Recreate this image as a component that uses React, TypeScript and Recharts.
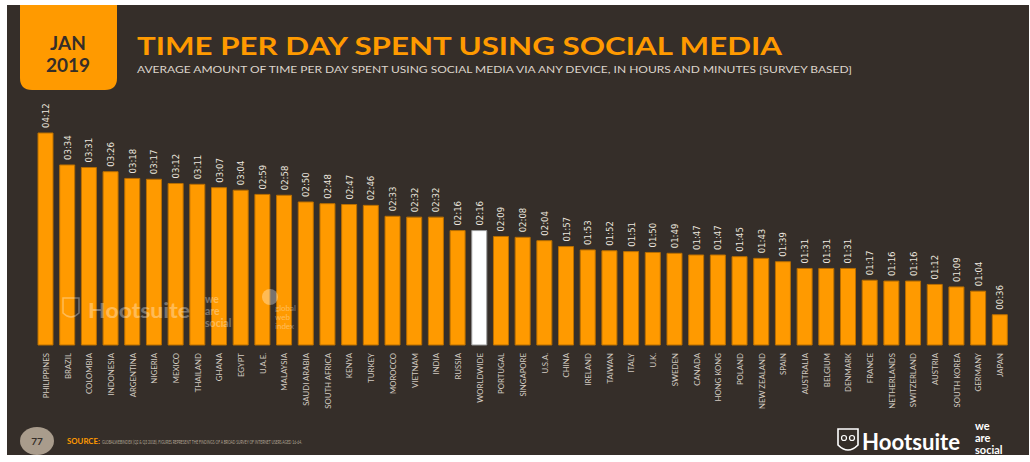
import { Bar, BarChart, Cell, LabelList, XAxis, YAxis } from 'recharts';

const COUNTRIES = [
  'PHILIPPINES', 'BRAZIL', 'COLOMBIA', 'INDONESIA', 'ARGENTINA', 'NIGERIA', 'MEXICO',
  'THAILAND', 'GHANA', 'EGYPT', 'U.A.E.', 'MALAYSIA', 'SAUDI ARABIA', 'SOUTH AFRICA',
  'KENYA', 'TURKEY', 'MOROCCO', 'VIETNAM', 'INDIA', 'RUSSIA', 'WORLDWIDE', 'PORTUGAL',
  'SINGAPORE', 'U.S.A.', 'CHINA', 'IRELAND', 'TAIWAN', 'ITALY', 'U.K.', 'SWEDEN',
  'CANADA', 'HONG KONG', 'POLAND', 'NEW ZEALAND', 'SPAIN', 'AUSTRALIA', 'BELGIUM',
  'DENMARK', 'FRANCE', 'NETHERLANDS', 'SWITZERLAND', 'AUSTRIA', 'SOUTH KOREA',
  'GERMANY', 'JAPAN',
];

// minutes per day (label shows hh:mm)
const MINUTES = [
  252, 214, 211, 206, 198, 197, 192, 191, 187, 184, 179, 178, 170, 168, 167, 166,
  153, 152, 152, 136, 136, 129, 128, 124, 117, 113, 112, 111, 110, 109, 107, 107,
  105, 103, 99, 91, 91, 91, 77, 76, 76, 72, 69, 64, 36,
];

const HIGHLIGHT = 'WORLDWIDE';

const data = COUNTRIES.map((country, i) => ({ country, minutes: MINUTES[i] }));

const ORANGE = '#ff9a00';
const BG = '#352e29';
const LABEL = '#d3cbc2';

const hhmm = (m: number) =>
  `${String(Math.floor(m / 60)).padStart(2, '0')}:${String(m % 60).padStart(2, '0')}`;

function CountryTick({ x, y, payload }: any) {
  return (
    <text
      x={x}
      y={y}
      transform={`rotate(-90, ${x}, ${y})`}
      textAnchor="end"
      dominantBaseline="central"
      fill={LABEL}
      fontSize={7.8}
      fontFamily="Lato, sans-serif"
    >
      {payload.value}
    </text>
  );
}

function ValueLabel({ x, y, width, value }: any) {
  const cx = x + width / 2;
  const ty = y - 5;
  return (
    <text
      x={cx}
      y={ty}
      transform={`rotate(-90, ${cx}, ${ty})`}
      textAnchor="start"
      dominantBaseline="central"
      fill="#ece6df"
      fontSize={9.5}
      fontFamily="'DejaVu Sans Condensed', 'Liberation Sans Narrow', sans-serif"
    >
      {hhmm(value)}
    </text>
  );
}

function Overlay() {
  return (
    <svg
      width={1030}
      height={462}
      style={{ position: 'absolute', left: 0, top: 0, pointerEvents: 'none' }}
    >
      {/* date tab */}
      <path d="M20 5 H117 V78 Q117 90 105 90 H32 Q20 90 20 78 Z" fill={ORANGE} />
      <text x={68} y={50} textAnchor="middle" fill={BG} fontSize={19} fontWeight={700}
        fontFamily="Lato, sans-serif">JAN</text>
      <text x={68} y={72} textAnchor="middle" fill={BG} fontSize={19} fontWeight={700}
        fontFamily="Lato, sans-serif">2019</text>

      <text x={137} y={55} fill={ORANGE} fontSize={25} fontWeight={700}
        fontFamily="Lato, sans-serif" textLength={645} lengthAdjust="spacingAndGlyphs">
        TIME PER DAY SPENT USING SOCIAL MEDIA
      </text>
      <text x={137} y={73} fill="#ddd5cc" fontSize={9.5}
        fontFamily="Lato, sans-serif" textLength={715} lengthAdjust="spacingAndGlyphs">
        AVERAGE AMOUNT OF TIME PER DAY SPENT USING SOCIAL MEDIA VIA ANY DEVICE, IN HOURS AND MINUTES [SURVEY BASED]
      </text>

      {/* watermark over the bars */}
      <g fill="#ffffff" opacity={0.33} fontFamily="Lato, sans-serif" fontWeight={700}>
        <path d="M63 298 H79 V313 Q71 321 63 313 Z" fill="none" stroke="#ffffff" strokeWidth={1.5} />
        <text x={88} y={318} fontSize={20} textLength={102} lengthAdjust="spacingAndGlyphs">Hootsuite</text>
        <text x={205} y={303} fontSize={10.5}>we</text>
        <text x={205} y={315} fontSize={10.5}>are</text>
        <text x={205} y={327} fontSize={10.5}>social</text>
        <circle cx={270} cy={297} r={8} />
        <text x={275} y={311} fontSize={8} fontWeight={400}>global</text>
        <text x={275} y={320} fontSize={8} fontWeight={400}>web</text>
        <text x={275} y={329} fontSize={8} fontWeight={400}>index</text>
      </g>

      {/* footer */}
      <ellipse cx={37} cy={441} rx={17} ry={14} fill="#a99c8c" />
      <text x={37} y={445} textAnchor="middle" fill={BG} fontSize={10} fontWeight={700}
        fontFamily="Lato, sans-serif">77</text>
      <text x={67} y={444} fontSize={7} fontWeight={700} fontFamily="Lato, sans-serif" fill={ORANGE}
        textLength={33} lengthAdjust="spacingAndGlyphs">SOURCE:</text>
      <text x={102} y={444} fontSize={6.5} fontFamily="Lato, sans-serif" fill="#b3a797"
        textLength={200} lengthAdjust="spacingAndGlyphs">
        GLOBALWEBINDEX (Q2 &amp; Q3 2018). FIGURES REPRESENT THE FINDINGS OF A BROAD SURVEY OF INTERNET USERS AGED 16-64.
      </text>

      <path d="M838 429 H858 V445 Q848 455 838 445 Z" fill="none" stroke="#ffffff" strokeWidth={1.6} />
      <circle cx={844} cy={438} r={2.5} fill="none" stroke="#ffffff" strokeWidth={1.2} />
      <circle cx={852} cy={438} r={2.5} fill="none" stroke="#ffffff" strokeWidth={1.2} />
      <text x={862} y={450} fill="#ffffff" fontSize={22} fontWeight={700}
        fontFamily="Lato, sans-serif" textLength={98} lengthAdjust="spacingAndGlyphs">Hootsuite</text>
      <g fill="#ffffff" fontSize={11} fontWeight={700} fontFamily="Lato, sans-serif">
        <text x={975} y={430}>we</text>
        <text x={975} y={442}>are</text>
        <text x={975} y={454}>social</text>
      </g>
    </svg>
  );
}

export default function App() {
  return (
    <div style={{ position: 'absolute', left: 0, top: 0, width: 1030, height: 462, background: '#ffffff' }}>
      <div style={{ position: 'absolute', left: 7, top: 5, width: 1022, height: 450, background: BG }} />
      <div style={{ position: 'absolute', left: 0, top: 0 }}>
        <BarChart
          width={1030}
          height={462}
          data={data}
          margin={{ top: 133, right: 19, left: 35, bottom: 57 }}
        >
          <XAxis
            dataKey="country"
            interval={0}
            axisLine={false}
            tickLine={false}
            height={60}
            tick={<CountryTick />}
          />
          <YAxis hide domain={[0, 252]} />
          <Bar dataKey="minutes" barSize={15} isAnimationActive={false} strokeWidth={1}>
            {data.map((d) => (
              <Cell
                key={d.country}
                fill={d.country === HIGHLIGHT ? '#ffffff' : ORANGE}
                stroke={d.country === HIGHLIGHT ? '#9a9a9a' : '#b86e00'}
              />
            ))}
            <LabelList dataKey="minutes" content={<ValueLabel />} />
          </Bar>
        </BarChart>
      </div>
      <Overlay />
    </div>
  );
}
